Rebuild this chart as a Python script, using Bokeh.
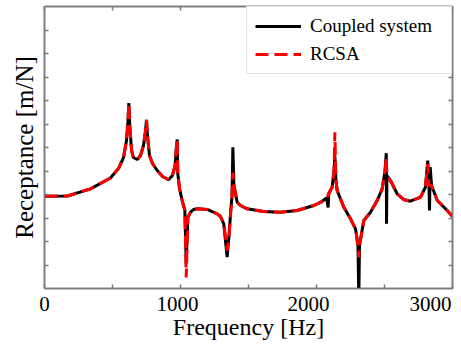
import numpy as np
from bokeh.plotting import figure
from bokeh.models import (FixedTicker, LinearAxis, LogAxis, Range1d, Legend, LegendItem,
                          CustomJSTickFormatter)
from bokeh.embed import file_html
from bokeh.resources import INLINE

# Frequencies [Hz] and log10 receptance [m/N]
coupled_freq = [0, 169, 338, 485, 544, 581, 603, 614, 620, 627,
                640, 654, 682, 706, 728, 743, 750, 757, 772, 794,
                829, 868, 912, 941, 960, 971, 976, 980, 993, 1012,
                1032, 1042, 1054, 1074, 1096, 1123, 1196, 1270, 1294, 1318,
                1343, 1357, 1368, 1379, 1385, 1393, 1417, 1441, 1490, 1610,
                1735, 1858, 1980, 2029, 2074, 2086, 2090, 2115, 2129, 2135,
                2143, 2152, 2201, 2250, 2287, 2305, 2311, 2316, 2348, 2397,
                2446, 2483, 2504, 2513, 2515, 2518, 2544, 2593, 2640, 2691,
                2765, 2801, 2818, 2827, 2831, 2836, 2846, 2888, 2961, 3000]
coupled_log = [-7.036, -7.032, -6.879, -6.649, -6.447, -6.213, -5.851, -5.426, -5.057, -5.532,
               -6.064, -6.213, -6.255, -6.170, -5.957, -5.638, -5.411, -5.745, -6.170, -6.340,
               -6.489, -6.617, -6.687, -6.596, -6.383, -5.957, -5.830, -6.553, -6.872, -7.128,
               -7.340, -8.468, -7.483, -7.377, -7.319, -7.304, -7.319, -7.411, -7.468, -7.623,
               -8.334, -7.872, -7.404, -7.021, -5.994, -6.809, -7.164, -7.234, -7.304, -7.362,
               -7.377, -7.340, -7.234, -7.170, -7.074, -7.277, -6.979, -6.845, -6.489, -6.170,
               -6.702, -6.915, -7.270, -7.517, -7.730, -8.085, -9.255, -8.085, -7.553, -7.377,
               -7.128, -6.879, -6.489, -6.121, -7.623, -6.596, -6.702, -6.985, -7.106, -7.143,
               -7.057, -6.845, -6.277, -6.809, -7.340, -6.419, -6.809, -7.128, -7.340, -7.468]

rcsa_freq = [0, 169, 338, 485, 544, 581, 603, 614, 620, 627,
             640, 654, 682, 706, 728, 743, 750, 757, 772, 794,
             829, 868, 912, 941, 960, 971, 976, 980, 993, 1012,
             1032, 1042, 1054, 1074, 1096, 1123, 1196, 1270, 1294, 1318,
             1343, 1357, 1368, 1379, 1385, 1393, 1417, 1441, 1490, 1610,
             1735, 1858, 1980, 2029, 2074, 2115, 2129, 2135, 2143, 2152,
             2201, 2250, 2287, 2305, 2311, 2316, 2348, 2397, 2446, 2483,
             2504, 2513, 2518, 2544, 2593, 2640, 2691, 2765, 2801, 2818,
             2827, 2846, 2888, 2961, 3000]
rcsa_log = [-7.036, -7.032, -6.879, -6.649, -6.447, -6.213, -5.851, -5.426, -5.057, -5.532,
            -6.064, -6.213, -6.255, -6.170, -5.957, -5.638, -5.411, -5.745, -6.170, -6.340,
            -6.489, -6.617, -6.687, -6.596, -6.383, -5.957, -5.830, -6.553, -6.872, -7.128,
            -7.340, -8.766, -7.483, -7.377, -7.319, -7.304, -7.319, -7.411, -7.468, -7.623,
            -8.191, -7.872, -7.404, -7.021, -6.532, -6.809, -7.164, -7.234, -7.304, -7.362,
            -7.377, -7.340, -7.234, -7.170, -7.074, -6.845, -6.489, -5.674, -6.702, -6.915,
            -7.270, -7.517, -7.730, -8.085, -8.340, -8.085, -7.553, -7.377, -7.128, -6.879,
            -6.489, -6.206, -6.596, -6.702, -6.985, -7.106, -7.143, -7.057, -6.845, -6.347,
            -6.809, -6.809, -7.128, -7.340, -7.468]

# Axis ticks
x_tick_marks = [0, 500, 1000, 1500, 2000, 2500, 3000]
x_label_pos = [0, 978, 1941, 2838]
x_label_text = ["0", "1000", "2000", "3000"]
y_tick_exp = [-8.5, -8.0, -7.5, -7.0, -6.5, -6.0, -5.5, -5.0, -4.5, -4.0, -3.5]

FONT = "'Liberation Serif', 'Times New Roman', 'DejaVu Serif', serif"
AXIS_COLOR = "#7a7a7a"

p = figure(width=461, height=349, x_range=Range1d(0, 3000), y_range=Range1d(1e-9, 1e-3),
           y_axis_type="log", output_backend="svg", toolbar_location=None,
           min_border_left=44, min_border_right=9, min_border_top=6, min_border_bottom=61)
p.grid.visible = False
p.outline_line_color = AXIS_COLOR
p.outline_line_width = 1.5
p.background_fill_color = "white"
p.border_fill_color = "white"

y_ticks = [10 ** e for e in y_tick_exp]
blank = CustomJSTickFormatter(code="return '';")


def style_plain(ax):
    ax.major_tick_in = 4
    ax.major_tick_out = 0
    ax.minor_tick_in = 0
    ax.minor_tick_out = 0
    ax.major_tick_line_color = AXIS_COLOR
    ax.major_tick_line_width = 1.5
    ax.axis_line_color = AXIS_COLOR
    ax.axis_line_width = 1.5
    ax.formatter = blank
    ax.major_label_text_font_size = "1px"
    ax.major_label_standoff = 0


# bottom axis
xa = p.xaxis[0]
xa.ticker = FixedTicker(ticks=x_label_pos, minor_ticks=x_tick_marks)
xa.major_label_overrides = {v: t for v, t in zip(x_label_pos, x_label_text)}
xa.major_tick_in = 0
xa.major_tick_out = 0
xa.minor_tick_in = 4
xa.minor_tick_out = 0
xa.minor_tick_line_color = AXIS_COLOR
xa.minor_tick_line_width = 1.5
xa.axis_line_color = AXIS_COLOR
xa.axis_line_width = 1.5
xa.major_label_text_font = FONT
xa.major_label_text_font_size = "21px"
xa.major_label_text_color = "black"
xa.major_label_standoff = 8
xa.axis_label = "Frequency [Hz]"
xa.axis_label_text_font = FONT
xa.axis_label_text_font_size = "24px"
xa.axis_label_text_font_style = "normal"
xa.axis_label_text_color = "black"
xa.axis_label_standoff = 0

# left axis
ya = p.yaxis[0]
ya.ticker = FixedTicker(ticks=y_ticks, minor_ticks=[])
style_plain(ya)
ya.axis_label = "Receptance [m/N]"
ya.axis_label_text_font = FONT
ya.axis_label_text_font_size = "25px"
ya.axis_label_text_font_style = "normal"
ya.axis_label_text_color = "black"
ya.axis_label_standoff = 7

# top axis
ta = LinearAxis(ticker=FixedTicker(ticks=x_tick_marks, minor_ticks=[]))
style_plain(ta)
p.add_layout(ta, "above")

# right axis
ra = LogAxis(ticker=FixedTicker(ticks=y_ticks, minor_ticks=[]))
style_plain(ra)
p.add_layout(ra, "right")

r1 = p.line(coupled_freq, [10 ** v for v in coupled_log], line_color="black", line_width=3)
r2 = p.line(rcsa_freq, [10 ** v for v in rcsa_log], line_color="#ff0000", line_width=3,
            line_dash="13 6")

legend = Legend(items=[LegendItem(label="Coupled system", renderers=[r1]),
                       LegendItem(label="RCSA", renderers=[r2])],
                location="top_right", margin=0, padding=8, spacing=6,
                glyph_width=46, glyph_height=20, label_height=20, label_width=133,
                label_standoff=9, label_text_font=FONT, label_text_font_size="19px",
                label_text_color="black", border_line_color="#c8c8c8", border_line_width=1,
                background_fill_color="white", background_fill_alpha=1)
p.add_layout(legend)

open("out.html", "w").write(file_html(p, INLINE))
